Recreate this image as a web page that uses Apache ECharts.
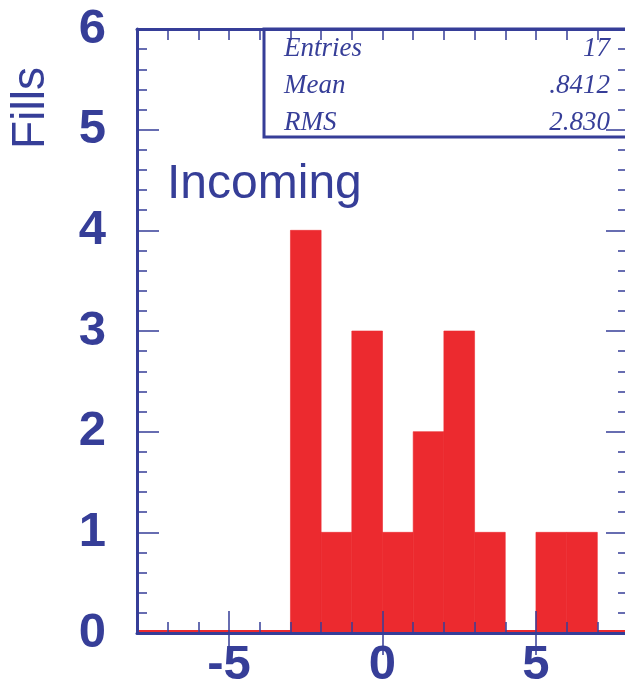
<!DOCTYPE html>
<html>
<head>
<meta charset="utf-8">
<script src="https://cdn.jsdelivr.net/npm/echarts@6/dist/echarts.min.js"></script>
<style>
  html, body { margin: 0; padding: 0; background: #fff; }
  #chart { width: 625px; height: 689px; }
</style>
</head>
<body>
<div id="chart"></div>
<script>
// Histogram bins (unit width) and their fill counts
const binLow  = [-8, -7, -6, -5, -4, -3, -2, -1, 0, 1, 2, 3, 4, 5, 6, 7];
const binHigh = [-7, -6, -5, -4, -3, -2, -1, 0, 1, 2, 3, 4, 5, 6, 7, 8];
const counts  = [0, 0, 0, 0, 0, 4, 1, 3, 1, 2, 3, 1, 0, 1, 1, 0];

// Labelled (long-tick) positions on the x axis
const xMajor = [-5, 0, 5];

// Statistics box rows
const statNames  = ['Entries', 'Mean', 'RMS'];
const statValues = ['17', '.8412', '2.830'];

const histTitle = 'Incoming';
const yTitle = 'Fills';

const BLUE = '#363e98';
const RED = '#ec2a2f';

const histData = binLow.map((lo, i) => [lo, binHigh[i], counts[i]]);

const chart = echarts.init(document.getElementById('chart'));

const tickFont = {
  color: BLUE, fontSize: 49, fontWeight: 'bold',
  fontFamily: '"Liberation Sans", Arial, sans-serif'
};

// short ticks at every unit, carries the axis line
function xMinorAxis(pos) {
  return {
    type: 'value', position: pos, min: -8, max: 8, interval: 1,
    z: 10,
    axisLine: { show: true, onZero: false, lineStyle: { color: BLUE, width: 3 } },
    axisTick: { show: true, inside: true, length: 11, lineStyle: { color: BLUE, width: 1.5 } },
    axisLabel: { show: false },
    splitLine: { show: false }
  };
}
// long ticks (and labels) at the major values
function xMajorAxis(pos, showLabel) {
  return {
    type: 'value', position: pos, min: -8, max: 8, interval: 1,
    z: 10,
    axisLine: { show: false },
    axisTick: { show: true, inside: true, length: 22, customValues: xMajor, lineStyle: { color: BLUE, width: 1.5 } },
    axisLabel: Object.assign({ show: showLabel, margin: 8, customValues: xMajor }, tickFont),
    splitLine: { show: false }
  };
}
function yAxisDef(pos, showLabel) {
  return {
    type: 'value', position: pos, min: 0, max: 6, interval: 1,
    z: 10,
    axisLine: { show: true, onZero: false, lineStyle: { color: BLUE, width: 3 } },
    axisTick: { show: true, inside: true, length: 22, lineStyle: { color: BLUE, width: 1.5 } },
    minorTick: { show: true, splitNumber: 5, length: 10, lineStyle: { color: BLUE, width: 1.5 } },
    axisLabel: Object.assign({ show: showLabel, margin: 31 }, tickFont),
    splitLine: { show: false }
  };
}

const statFont = 'italic 27px "Liberation Serif", "Times New Roman", serif';
const statText = [];
statNames.forEach((name, i) => {
  const y = 49 + i * 37;
  statText.push({
    type: 'text', x: 284, y: y, z: 20,
    style: { text: name, fill: BLUE, font: statFont, verticalAlign: 'middle' }
  });
  statText.push({
    type: 'text', x: 610, y: y, z: 20,
    style: { text: statValues[i], fill: BLUE, font: statFont, align: 'right', verticalAlign: 'middle' }
  });
});

chart.setOption({
  animation: false,
  grid: { left: 137, top: 29, width: 491, height: 604, outerBoundsMode: 'none', containLabel: false },
  xAxis: [xMinorAxis('bottom'), xMajorAxis('bottom', true), xMinorAxis('top'), xMajorAxis('top', false)],
  yAxis: [yAxisDef('left', true), yAxisDef('right', false)],
  graphic: [
    {
      type: 'rect', z: 20,
      shape: { x: 264, y: 29, width: 380, height: 108 },
      style: { fill: 'none', stroke: BLUE, lineWidth: 3 }
    },
    ...statText,
    {
      type: 'text', z: 20, x: 167, y: 185,
      style: { text: histTitle, fill: BLUE, verticalAlign: 'middle', font: '48px "Liberation Sans", Arial, sans-serif' }
    },
    {
      type: 'text', z: 20,
      x: 31, y: 108, rotation: Math.PI / 2,
      style: {
        text: yTitle, fill: BLUE, align: 'center', verticalAlign: 'middle',
        font: '46px "Liberation Sans", Arial, sans-serif'
      }
    }
  ],
  series: [{
    type: 'custom',
    xAxisIndex: 0, yAxisIndex: 0,
    clip: false,
    z: 2,
    data: histData,
    renderItem: function (params, api) {
      const lo = api.value(0), hi = api.value(1), n = api.value(2);
      const p0 = api.coord([lo, 0]);
      const p1 = api.coord([hi, n]);
      if (n === 0) {
        return {
          type: 'line',
          shape: { x1: p0[0], y1: p0[1] - 2, x2: p1[0], y2: p0[1] - 2 },
          style: { stroke: RED, lineWidth: 2 }
        };
      }
      return {
        type: 'rect',
        shape: { x: p0[0], y: p1[1], width: p1[0] - p0[0], height: p0[1] - p1[1] },
        style: { fill: RED, stroke: RED, lineWidth: 0.6 }
      };
    }
  }]
});
</script>
</body>
</html>
